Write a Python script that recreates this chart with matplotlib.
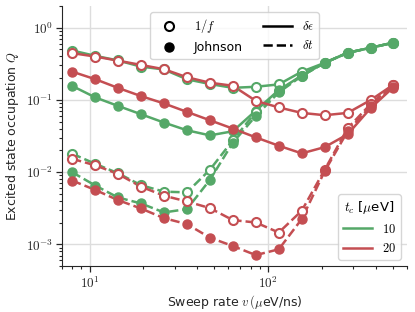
import numpy as np
import matplotlib
matplotlib.use('Agg')
import matplotlib.pyplot as plt
from matplotlib.lines import Line2D
from matplotlib.ticker import FuncFormatter, NullFormatter

plt.rcParams['font.family'] = ['DejaVu Sans']
plt.rcParams['mathtext.fontset'] = 'cm'
plt.rcParams['font.size'] = 9

# sweep rates (ueV/ns)
v = [8.0, 10.8, 14.4, 19.4, 26.1, 35.1, 47.2, 63.4, 85.3, 114.7, 154.2, 207.3, 278.7, 374.7, 500.0]

# tc = 10 ueV
q_1f_de_10 = [0.483, 0.407, 0.352, 0.289, 0.264, 0.193, 0.166, 0.147, 0.152, 0.164, 0.246, 0.326, 0.449, 0.527, 0.618]
q_jn_de_10 = [0.156, 0.108, 0.0828, 0.0634, 0.0486, 0.0380, 0.0323, 0.0368, 0.071, 0.137, 0.217, 0.326, 0.449, 0.527, 0.618]
q_1f_dt_10 = [0.0180, 0.0130, 0.0097, 0.0066, 0.00537, 0.00525, 0.0108, 0.0275, 0.0683, 0.132, 0.217, 0.326, 0.449, 0.527, 0.618]
q_jn_dt_10 = [0.00997, 0.00651, 0.00447, 0.00369, 0.00277, 0.00308, 0.00781, 0.0255, 0.0601, 0.127, 0.214, 0.326, 0.449, 0.527, 0.618]

# tc = 20 ueV
q_1f_de_20 = [0.444, 0.398, 0.350, 0.305, 0.266, 0.206, 0.173, 0.157, 0.0971, 0.0787, 0.0661, 0.0614, 0.0661, 0.0994, 0.161]
q_jn_de_20 = [0.246, 0.193, 0.147, 0.113, 0.0894, 0.0683, 0.0523, 0.0401, 0.0303, 0.0232, 0.0182, 0.0222, 0.0334, 0.0769, 0.148]
q_1f_dt_20 = [0.0153, 0.0124, 0.00947, 0.00630, 0.00472, 0.00393, 0.00318, 0.00217, 0.00201, 0.00146, 0.00292, 0.0108, 0.0405, 0.0874, 0.161]
q_jn_dt_20 = [0.00764, 0.00566, 0.00411, 0.00314, 0.00231, 0.00191, 0.00124, 0.00095, 0.000711, 0.000855, 0.00224, 0.0103, 0.0368, 0.082, 0.152]

tc_labels = ['10', '20']
green = '#55a868'
red = '#c44e52'

fig = plt.figure(figsize=(4.15, 3.12), dpi=100)
ax = fig.add_axes([0.149, 0.147, 0.832, 0.834])

series = [
    (q_1f_de_10, green, '-', True), (q_jn_de_10, green, '-', False),
    (q_1f_dt_10, green, '--', True), (q_jn_dt_10, green, '--', False),
    (q_1f_de_20, red, '-', True), (q_jn_de_20, red, '-', False),
    (q_1f_dt_20, red, '--', True), (q_jn_dt_20, red, '--', False),
]
for q, c, ls, hollow in series:
    ax.plot(v, q, ls, color=c, lw=1.8, zorder=2)
for q, c, ls, hollow in series:
    if hollow:
        ax.plot(v, q, 'o', ms=6.5, mfc='white', mec=c, mew=1.5, zorder=3)
    else:
        ax.plot(v, q, 'o', ms=6.5, mfc=c, mec=c, mew=1.0, zorder=3)

ax.set_xscale('log')
ax.set_yscale('log')
ax.set_xlim(7, 600)
ax.set_ylim(5e-4, 2)

fmt = FuncFormatter(lambda val, p: '$10^{%d}$' % int(round(np.log10(val))))
ax.xaxis.set_major_formatter(fmt)
ax.yaxis.set_major_formatter(fmt)
ax.xaxis.set_minor_formatter(NullFormatter())
ax.yaxis.set_minor_formatter(NullFormatter())

ax.grid(True, which='major', color='#dddddd', lw=1.0)
ax.set_axisbelow(True)
for s in ['top', 'right']:
    ax.spines[s].set_visible(False)
for s in ['left', 'bottom']:
    ax.spines[s].set_color('0.15')
ax.tick_params(which='major', direction='out', length=4, width=0.9, colors='0.15', labelsize=9.5, pad=2.5)
ax.tick_params(which='minor', direction='out', length=2.5, width=0.8, colors='0.15')

ax.set_xlabel(r'Sweep rate $v\,(\mu$eV/ns)', color='0.15', labelpad=1.5)
ax.set_ylabel(r'Excited state occupation $Q$', color='0.15', labelpad=3)

h1 = [
    Line2D([], [], ls='none', marker='o', ms=6.5, mfc='white', mec='k', mew=1.5),
    Line2D([], [], ls='none', marker='o', ms=6.5, mfc='k', mec='k'),
    Line2D([], [], ls='-', color='k', lw=1.8),
    Line2D([], [], ls='--', color='k', lw=1.8),
]
leg1 = ax.legend(h1, ['$1/f$', 'Johnson', r'$\delta\epsilon$', r'$\delta t$'],
                 ncol=2, loc='upper center', bbox_to_anchor=(0.5, 1.0),
                 handlelength=2.3, columnspacing=1.6, fontsize=9)
ax.add_artist(leg1)

h2 = [Line2D([], [], color=green, lw=1.8), Line2D([], [], color=red, lw=1.8)]
ax.legend(h2, ['$%s$' % t for t in tc_labels], loc='lower right',
          title=r'$t_c$ [$\mu$eV]', handlelength=2.3, fontsize=9, title_fontsize=9.5)

fig.savefig('out.png', dpi=100)
